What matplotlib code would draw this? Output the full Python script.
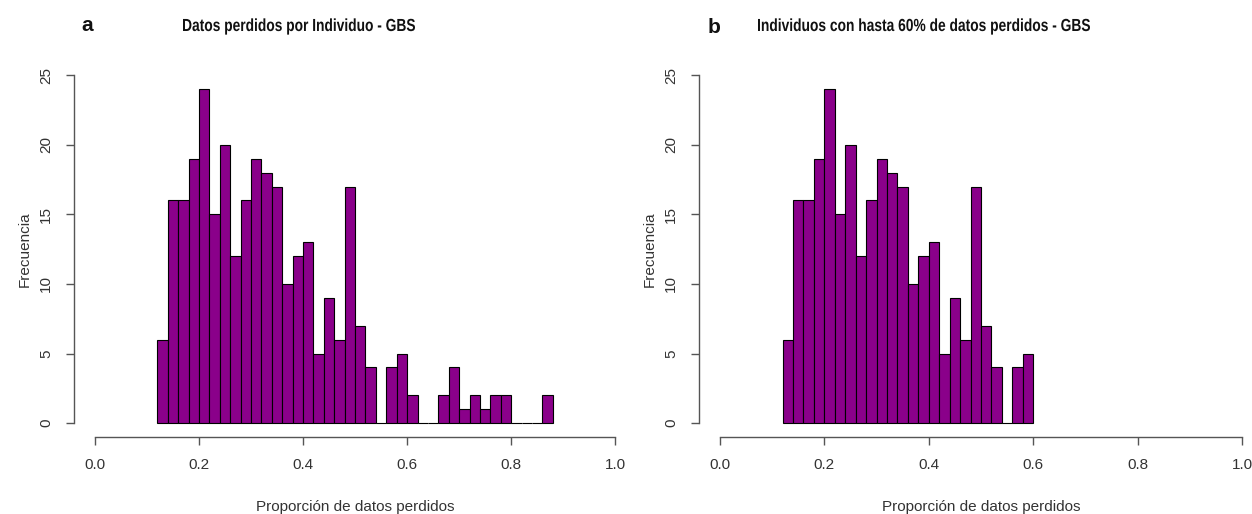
import matplotlib
matplotlib.use("Agg")
from matplotlib import pyplot as plt
from matplotlib.textpath import TextPath
from matplotlib.patches import PathPatch
from matplotlib.font_manager import FontProperties
from matplotlib.transforms import Affine2D, IdentityTransform
import numpy as np

plt.rcParams['font.family'] = ['Liberation Sans', 'DejaVu Sans']

# Histogram of missing-data proportion per individual (bins of 0.02 from 0.12)
bin_start = 0.12
bin_width = 0.02
counts = [6, 16, 16, 19, 24, 15, 20, 12, 16, 19, 18, 17, 10, 12, 13, 5, 9, 6, 17,
          7, 4, 0, 4, 5, 2, 0, 0, 2, 4, 1, 2, 1, 2, 2, 0, 0, 0, 2]
cutoff = 0.60

titles = ["Datos perdidos por Individuo - GBS",
          "Individuos con hasta 60% de datos perdidos - GBS"]
panel_letters = ["a", "b"]
xticks = [0.0, 0.2, 0.4, 0.6, 0.8, 1.0]
yticks = [0, 5, 10, 15, 20, 25]

bar_color = '#8a008a'
axis_color = '#555555'
text_color = '#333333'

W, H = 1252, 514


def narrow_title(fig, s, x_left, width, baseline, size_px, color='#111111'):
    # bold text squeezed horizontally to a given pixel width (condensed look)
    fp = FontProperties(family='Liberation Sans', weight='bold')
    tp = TextPath((0, 0), s, size=size_px, prop=fp)
    bb = tp.get_extents()
    tr = (Affine2D().translate(-bb.x0, 0)
          .scale(width / bb.width, 1)
          .translate(x_left, H - baseline))
    patch = PathPatch(tr.transform_path(tp), transform=IdentityTransform(),
                      facecolor=color, edgecolor='none')
    fig.add_artist(patch)


edges = np.round(bin_start + bin_width * np.arange(len(counts) + 1), 4)
counts = np.array(counts)
keep = edges[1:] <= cutoff + 1e-9

fig = plt.figure(figsize=(W / 100, H / 100), dpi=100)
ax_a = fig.add_axes([0.0591, 0.1498, 0.449, 0.731])
ax_b = fig.add_axes([0.5583, 0.1498, 0.4505, 0.731])

panels = [(ax_a, edges, counts), (ax_b, edges[:keep.sum() + 1], counts[keep])]

for ax, e, c in panels:
    ax.hist(e[:-1], bins=e, weights=c, color=bar_color, edgecolor='black', linewidth=0.8)
    ax.set_xlim(-0.04, 1.04)
    ax.set_ylim(-1, 26)
    for side in ['top', 'right']:
        ax.spines[side].set_visible(False)
    ax.spines['left'].set_bounds(0, 25)
    ax.spines['bottom'].set_bounds(0, 1)
    for side in ['left', 'bottom']:
        ax.spines[side].set_color(axis_color)
        ax.spines[side].set_linewidth(1.0)
    ax.set_xticks(xticks)
    ax.set_xticklabels([f"{t:.1f}" for t in xticks])
    ax.set_yticks(yticks)
    ax.set_yticklabels([str(t) for t in yticks], rotation=90, va='center')
    ax.tick_params(direction='out', length=6, width=1.0, color=axis_color,
                   labelcolor=text_color, labelsize=11, pad=9)
    ax.set_xlabel("Proporción de datos perdidos", fontsize=11, color=text_color, labelpad=20)
    ax.set_ylabel("Frecuencia", fontsize=11, color=text_color, labelpad=5)
    ax.patch.set_visible(False)

# Panel titles and letters
narrow_title(fig, titles[0], 183, 232, 31, 17.5)
narrow_title(fig, titles[1], 758, 332, 31, 17.5)
fig.text(0.0695, 0.951, panel_letters[0], ha='center', va='center', fontsize=15,
         fontweight='bold', color='#111111')
fig.text(0.570, 0.947, panel_letters[1], ha='center', va='center', fontsize=15,
         fontweight='bold', color='#111111')

fig.savefig("out.png", dpi=100)
